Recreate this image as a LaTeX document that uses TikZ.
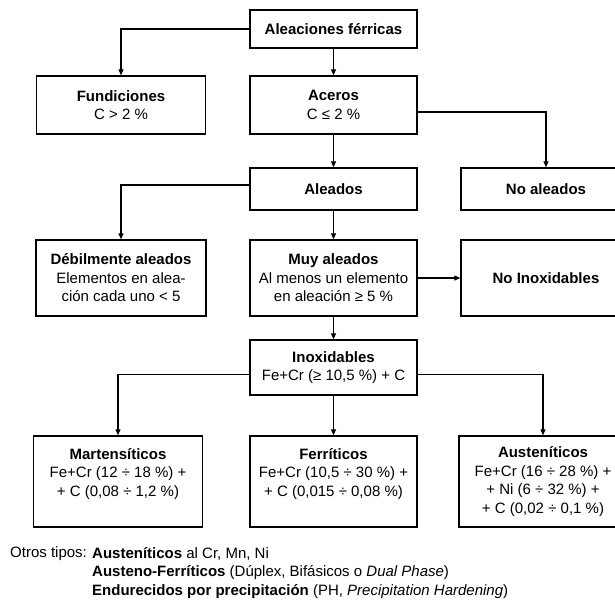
\documentclass[tikz,border=0pt]{standalone}
\usepackage{fontspec}
\setmainfont{Liberation Sans}
\usetikzlibrary{arrows.meta}

\tikzset{
caja/.style 2 args={draw, line width=1.4pt, align=center, inner sep=1pt,
  minimum width=#1, minimum height=#2,
  font=\fontsize{15}{18.5}\selectfont},
flecha/.style={line width=1.2pt, -{Triangle[length=6pt,width=5pt]}},
pie/.style={anchor=west, inner sep=0pt, font=\fontsize{15}{19}\selectfont},
}

\begin{document}
\begin{tikzpicture}[x=1pt, y=-1pt]
\useasboundingbox (0,0) rectangle (615,605);
\clip (0,0) rectangle (615,605);

% cajas, fila por fila
\node[caja={167pt}{38pt}] (alfer) at (333.5,29) {\textbf{Aleaciones férricas}};
\node[caja={169pt}{58pt}] (fund) at (121,105) {\textbf{Fundiciones}\\C > 2 \%};
\node[caja={167pt}{58pt}] (aceros) at (333.5,105) {\textbf{Aceros}\\C ≤ 2 \%};
\node[caja={167pt}{42pt}] (aleados) at (333.5,189) {\textbf{Aleados}};
\node[caja={170pt}{42pt}] (noal) at (546,189) {\textbf{No aleados}};
\node[caja={170pt}{76pt}] (debil) at (121,278)
  {\textbf{Débilmente aleados}\\Elementos en alea-\\ción cada uno < 5};
\node[caja={167pt}{76pt}] (muy) at (333.5,278)
  {\textbf{Muy aleados}\\Al menos un elemento\\en aleación ≥ 5 \%};
\node[caja={170pt}{76pt}] (noinox) at (546,278) {\textbf{No Inoxidables}};
\node[caja={167pt}{55pt}] (inox) at (333.5,367.5)
  {\textbf{Inoxidables}\\Fe+Cr (≥ 10,5 \%) + C};
% linea vacia al final: el texto queda a la altura de Austeniticos
\node[caja={169pt}{91pt}] (mart) at (118,481.5)
  {\textbf{Martensíticos}\\Fe+Cr (12 ÷ 18 \%) +\\+ C (0,08 ÷ 1,2 \%)\\\mbox{}};
\node[caja={167pt}{91pt}] (ferr) at (333.5,481.5)
  {\textbf{Ferríticos}\\Fe+Cr (10,5 ÷ 30 \%) +\\+ C (0,015 ÷ 0,08 \%)\\\mbox{}};
\node[caja={168pt}{91pt}] (aust) at (543,481.5)
  {\textbf{Austeníticos}\\Fe+Cr (16 ÷ 28 \%) +\\+ Ni (6 ÷ 32 \%) +\\+ C (0,02 ÷ 0,1 \%)};

% conexiones
\draw[flecha] (alfer.west) -| (fund.north);
\draw[flecha] (alfer) -- (aceros);
\draw[flecha] ([yshift=-7pt]aceros.east) -| (noal.north);
\draw[flecha] (aceros) -- (aleados);
\draw[flecha] ([yshift=4pt]aleados.west) -| (debil.north);
\draw[flecha] (aleados) -- (muy);
\draw[flecha] (muy) -- (noinox);
\draw[flecha] (muy) -- (inox);
\draw[flecha] ([yshift=-7pt]inox.west) -| (mart.north);
\draw[flecha] ([yshift=-7pt]inox.east) -| (aust.north);
\draw[flecha] (inox) -- (ferr);

% otros tipos
\node[pie] (otros) at (10,554) {Otros tipos:};
\node[pie] (tipo1) at (92,554) {\textbf{Austeníticos} al Cr, Mn, Ni};
\node[pie] (tipo2) at (92,573)
  {\textbf{Austeno-Ferríticos} (Dúplex, Bifásicos o \textit{Dual Phase})};
\node[pie] (tipo3) at (92,592)
  {\textbf{Endurecidos por precipitación} (PH, \textit{Precipitation Hardening})};
\end{tikzpicture}
\end{document}
